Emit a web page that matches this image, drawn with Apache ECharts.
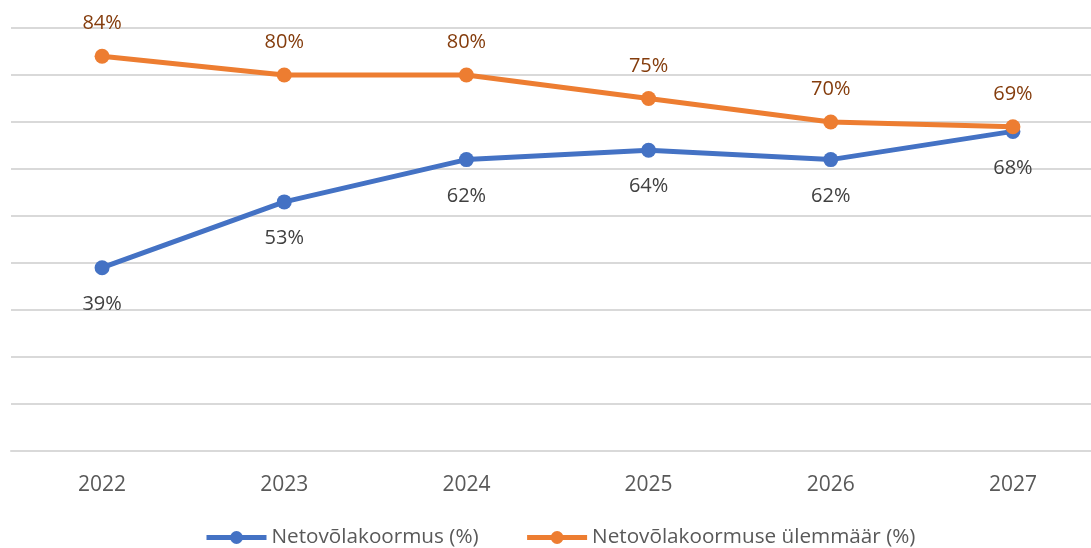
<!DOCTYPE html>
<html>
<head>
<meta charset="utf-8">
<script src="https://cdn.jsdelivr.net/npm/echarts@6/dist/echarts.min.js"></script>
<style>
  html, body { margin: 0; padding: 0; background: #fff; overflow: hidden; }
  /* plot area runs past the right edge in the original, so the div is a bit wider */
  #chart { width: 1104px; height: 548px; }
</style>
</head>
<body>
<div id="chart"></div>
<script>
// aastad ja väärtused
var years = ['2022', '2023', '2024', '2025', '2026', '2027'];
var netDebt = [39, 53, 62, 64, 62, 68];
var netDebtLimit = [84, 80, 80, 75, 70, 69];
var seriesNames = ['Netovõlakoormus (%)', 'Netovõlakoormuse ülemmäär (%)'];

var chart = echarts.init(document.getElementById('chart'));
var font = '"Open Sans", "Noto Sans", sans-serif';

chart.setOption({
    animation: false,
    textStyle: { fontFamily: font },
    grid: {
        left: 11,
        right: 0,
        top: 28,
        bottom: 97
    },
    legend: {
        top: 522,
        left: 199,
        itemWidth: 60,
        itemHeight: 16,
        itemGap: 46,
        lineStyle: { width: 5 },
        textStyle: { fontSize: 20.7, color: '#595959', fontFamily: font },
        data: seriesNames
    },
    xAxis: {
        type: 'category',
        data: years,
        axisTick: { show: false },
        axisLine: { lineStyle: { color: '#d9d9d9', width: 2 } },
        axisLabel: { fontSize: 21, color: '#595959', margin: 24 }
    },
    yAxis: {
        type: 'value',
        min: 0,
        max: 90,
        interval: 10,
        axisLabel: { show: false },
        axisLine: { show: false },
        axisTick: { show: false },
        splitLine: { lineStyle: { color: '#d9d9d9', width: 2 } }
    },
    series: [{
        name: seriesNames[0],
        type: 'line',
        data: netDebt,
        symbol: 'circle',
        symbolSize: 15,
        lineStyle: { color: '#4472c4', width: 5 },
        itemStyle: { color: '#4472c4' },
        label: {
            show: true,
            position: 'bottom',
            distance: 19,
            fontSize: 20,
            color: '#404040',
            formatter: '{c}%'
        }
    }, {
        name: seriesNames[1],
        type: 'line',
        data: netDebtLimit,
        symbol: 'circle',
        symbolSize: 15,
        lineStyle: { color: '#ed7d31', width: 5 },
        itemStyle: { color: '#ed7d31' },
        label: {
            show: true,
            position: 'top',
            distance: 15,
            fontSize: 20,
            color: '#843c0c',
            formatter: '{c}%'
        }
    }]
});
</script>
</body>
</html>
